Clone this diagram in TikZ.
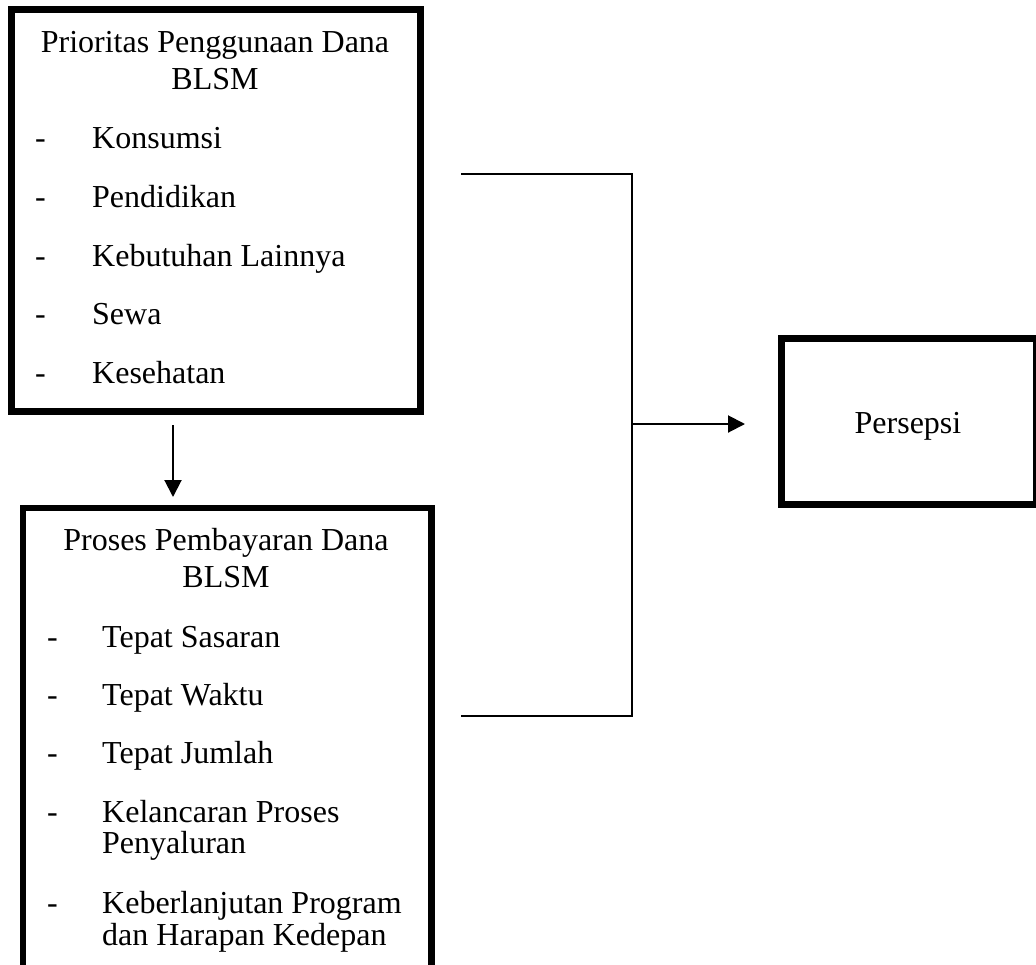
\documentclass[tikz,border=0pt]{standalone}
\usepackage{fontspec}
\setmainfont{Liberation Serif}
\usetikzlibrary{arrows.meta}
\begin{document}
\begin{tikzpicture}[x=1pt,y=-1pt,
  txt/.style={inner sep=0pt,font=\fontsize{32}{37}\selectfont},
  boxline/.style={draw=black,line width=6.8pt},
  conn/.style={draw=black,line width=2pt},
  arr/.style={conn,-{Triangle[length=17pt,width=17pt]}}]
\useasboundingbox (0,0) rectangle (1036,964);
\begin{scope}
\clip (0,0) rectangle (1036,964);
% boxes
\node[boxline,rectangle,minimum width=409pt,minimum height=402pt,inner sep=0pt] (box1) at (216,210.5) {};
\node[boxline,rectangle,minimum width=408.5pt,minimum height=500pt,inner sep=0pt] (box2) at (227.25,758) {};
\node[boxline,rectangle,minimum width=255pt,minimum height=166pt,inner sep=0pt] (box3) at (909,421.5) {};
\end{scope}
% box 1 text
\node[txt,anchor=base] (t1a) at (215,52) {Prioritas Penggunaan Dana};
\node[txt,anchor=base] (t1b) at (215,89) {BLSM};
\foreach \n/\y/\s in {k1/148/Konsumsi,k2/207/Pendidikan,k3/266/Kebutuhan Lainnya,k4/324/Sewa,k5/383/Kesehatan}{
  \node[txt,anchor=base west] (d\n) at (35,\y) {-};
  \node[txt,anchor=base west] (\n) at (92,\y) {\s};
}
% box 2 text
\node[txt,anchor=base] (t2a) at (226,550) {Proses Pembayaran Dana};
\node[txt,anchor=base] (t2b) at (226,587) {BLSM};
\foreach \n/\y/\s in {p1/647/Tepat Sasaran,p2/705/Tepat Waktu,p3/763/Tepat Jumlah,p4/822/Kelancaran Proses,p5/913/Keberlanjutan Program}{
  \node[txt,anchor=base west] (d\n) at (47,\y) {-};
  \node[txt,anchor=base west] (\n) at (102,\y) {\s};
}
\node[txt,anchor=base west] (p4b) at (102,853) {Penyaluran};
\node[txt,anchor=base west] (p5b) at (102,945) {dan Harapan Kedepan};
% persepsi
\node[txt,anchor=base] (per) at (908,433) {Persepsi};
% connectors
\coordinate (a1) at (173,425);
\coordinate (a2) at (173,497);
\draw[arr] (a1) -- (a2);
\coordinate (ht) at (461,174);
\coordinate (hb) at (461,716);
\coordinate (vt) at (632,174);
\coordinate (vb) at (632,716);
\coordinate (vm) at (632,424);
\coordinate (tip) at (745,424);
\draw[conn] (ht) -- (vt) -- (vb) -- (hb);
\draw[arr] (vm) -- (tip);
\end{tikzpicture}
\end{document}
